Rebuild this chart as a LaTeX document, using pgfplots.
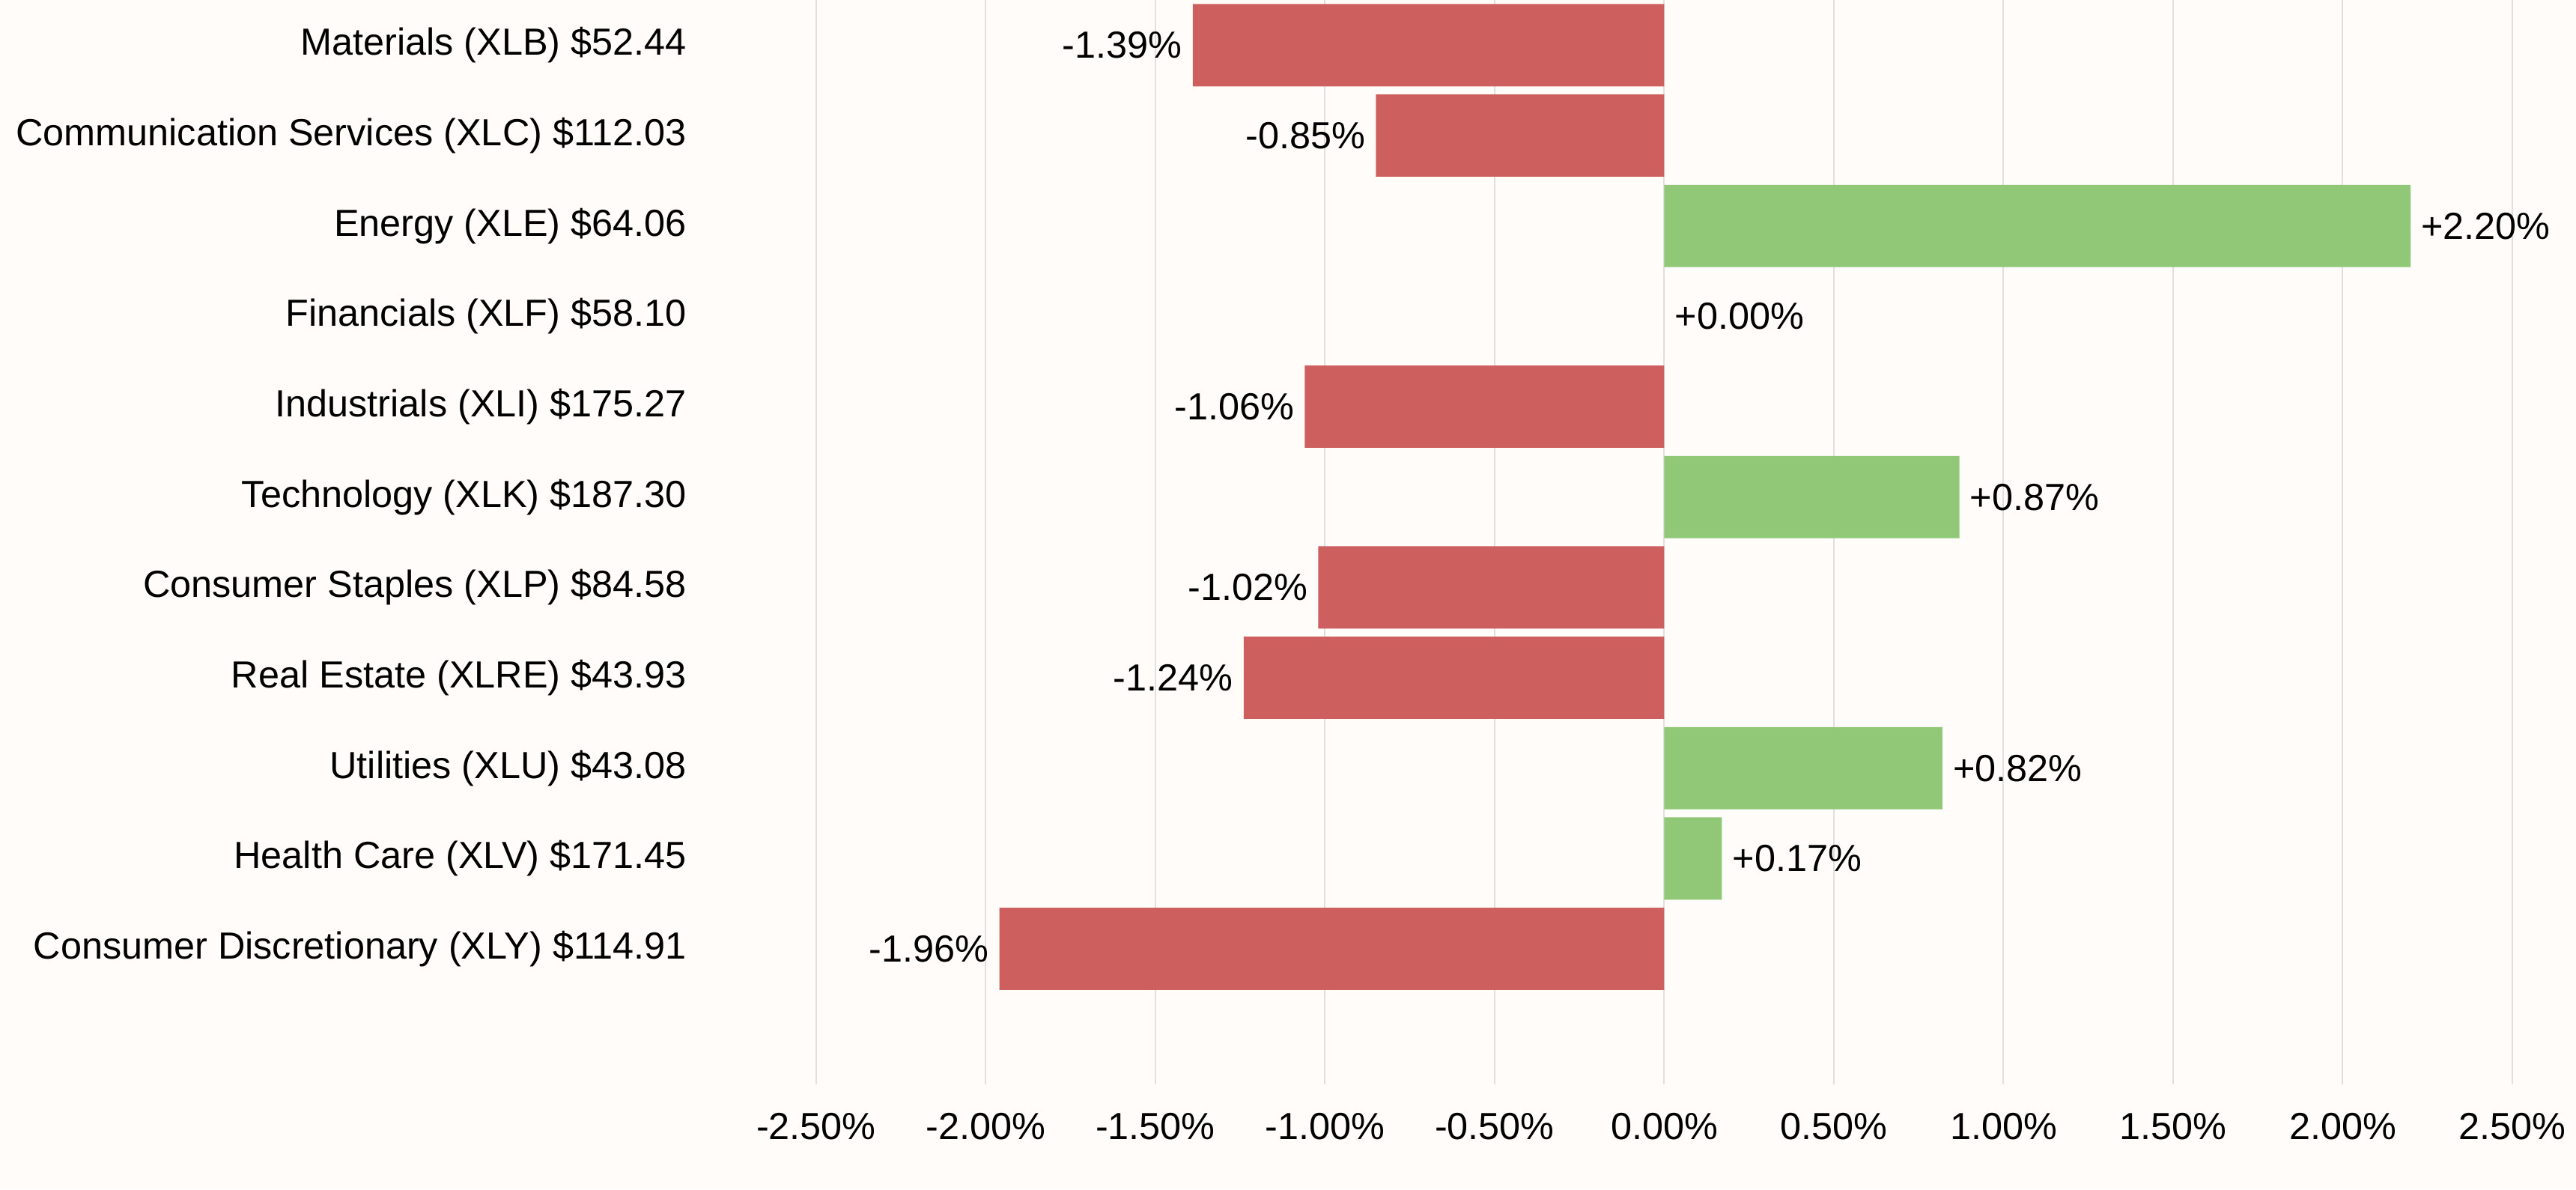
\documentclass[border=0pt]{standalone}
\usepackage{fontspec}
\setmainfont{Liberation Sans}
\usepackage{pgfplots}
\pgfplotsset{compat=1.18}

\definecolor{bgcol}{RGB}{255,252,250}
\definecolor{negcol}{RGB}{205,95,95}
\definecolor{poscol}{RGB}{144,200,120}
\definecolor{gridcol}{RGB}{226,224,222}

\newcommand{\lblfont}{\fontsize{12.6}{15}\selectfont}

\begin{document}
\begin{tikzpicture}
\path[use as bounding box, fill=bgcol] (-272.5pt,-35pt) rectangle (587.5pt,362pt);
\begin{axis}[
at={(0,0)}, anchor=south west,
scale only axis,
width=566.25pt, height=362pt,
xbar, bar shift=0pt, bar width=0.91,
xmin=-2.5, xmax=2.5,
ymin=-0.5, ymax=11.5,
y dir=reverse,
axis line style={draw=none},
tick style={draw=none},
xmajorgrids, ymajorgrids=false,
grid style={gridcol, line width=0.5pt},
xtick={-2.5,-2,-1.5,-1,-0.5,0,0.5,1,1.5,2,2.5},
xticklabels={-2.50\%,-2.00\%,-1.50\%,-1.00\%,-0.50\%,0.00\%,0.50\%,1.00\%,1.50\%,2.00\%,2.50\%},
ytick={0,1,2,3,4,5,6,7,8,9,10},
yticklabels={Materials (XLB) \$52.44,
Communication Services (XLC) \$112.03,
Energy (XLE) \$64.06,
Financials (XLF) \$58.10,
Industrials (XLI) \$175.27,
Technology (XLK) \$187.30,
Consumer Staples (XLP) \$84.58,
Real Estate (XLRE) \$43.93,
Utilities (XLU) \$43.08,
Health Care (XLV) \$171.45,
Consumer Discretionary (XLY) \$114.91},
tick label style={font=\lblfont},
xticklabel style={yshift=-6pt},
yticklabel style={xshift=-35.5pt},
point meta=explicit symbolic,
nodes near coords,
every node near coord/.append style={font=\lblfont},
]
\addplot[draw=none, fill=negcol, nodes near coords style={anchor=east}] coordinates {
(-1.39,0) [-1.39\%]
(-0.85,1) [-0.85\%]
(-1.06,4) [-1.06\%]
(-1.02,6) [-1.02\%]
(-1.24,7) [-1.24\%]
(-1.96,10) [-1.96\%]
};
\addplot[draw=none, fill=poscol, nodes near coords style={anchor=west}] coordinates {
(2.20,2) [+2.20\%]
(0.00,3) [+0.00\%]
(0.87,5) [+0.87\%]
(0.82,8) [+0.82\%]
(0.17,9) [+0.17\%]
};
\end{axis}
\end{tikzpicture}
\end{document}
